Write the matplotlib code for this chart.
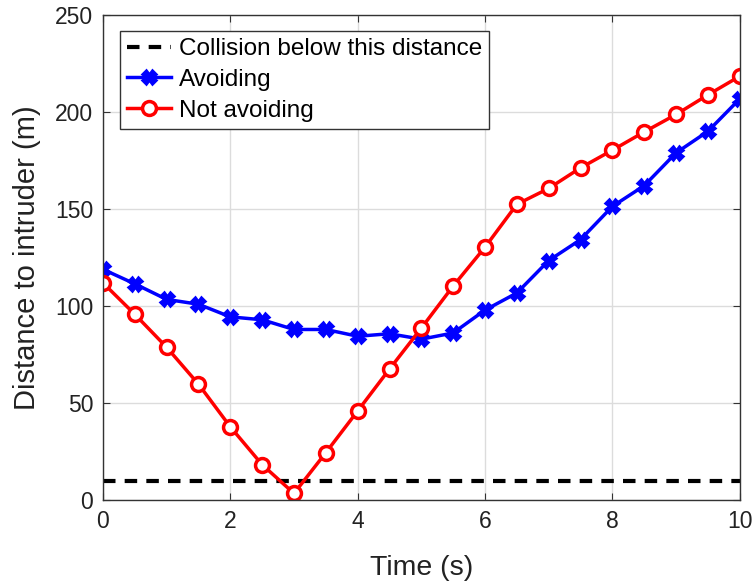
import numpy as np
import matplotlib.pyplot as plt

plt.rcParams['font.family'] = ['Liberation Sans', 'DejaVu Sans']

time_s = [0, 0.5, 1, 1.5, 2, 2.5, 3, 3.5, 4, 4.5, 5,
          5.5, 6, 6.5, 7, 7.5, 8, 8.5, 9, 9.5, 10]
avoiding = [119, 111.5, 103.5, 101, 94.5, 93, 88, 88, 84.5, 85.8, 83,
            86.2, 98, 106.8, 123.5, 134.3, 151.4, 162.1, 179, 190.1, 206.8]
not_avoiding = [112, 95.8, 78.8, 59.8, 37.8, 18.3, 3.5, 24.5, 46, 67.6, 88.7,
                110.4, 130.4, 152.5, 160.7, 171.3, 180.4, 189.8, 198.8, 208.9, 218.5]
collision_dist = 10

fig = plt.figure(figsize=(7.54, 5.83), dpi=100)
ax = fig.add_axes([0.1366, 0.142, 0.8444, 0.832])

ax.plot([0, 10], [collision_dist, collision_dist], 'k--', lw=3, dashes=(3, 2.2),
        label='Collision below this distance')
ax.plot(time_s, avoiding, color='#0000ff', lw=2.5, marker='X', ms=10,
        mec='#0000ff', mew=1.8, label='Avoiding')
ax.plot(time_s, not_avoiding, color='#ff0000', lw=2.5, marker='o', ms=10,
        mfc='white', mec='#ff0000', mew=2.5, label='Not avoiding')

ax.set_xlim(0, 10)
ax.set_ylim(0, 250)
ax.set_xticks(np.arange(0, 11, 2))
ax.set_yticks(np.arange(0, 251, 50))
ax.grid(True, color='#dcdcdc', lw=1)
ax.set_axisbelow(True)
ax.tick_params(direction='in', top=True, right=True, labelsize=16.5, length=5,
               color='#333333', labelcolor='#222222', pad=7)
for s in ax.spines.values():
    s.set_color('#333333')
    s.set_linewidth(1)

ax.set_xlabel('Time (s)', fontsize=20.5, labelpad=16, color='#222222')
ax.set_ylabel('Distance to intruder (m)', fontsize=21, labelpad=10, color='#222222')

leg = ax.legend(loc='upper left', bbox_to_anchor=(0.027, 0.967), fontsize=17.5,
                fancybox=False, edgecolor='#333333', framealpha=1,
                handlelength=1.8, handletextpad=0.3, borderpad=0.3,
                labelspacing=0.35, borderaxespad=0)
leg.get_frame().set_linewidth(1)

fig.savefig('out.png', dpi=100)
